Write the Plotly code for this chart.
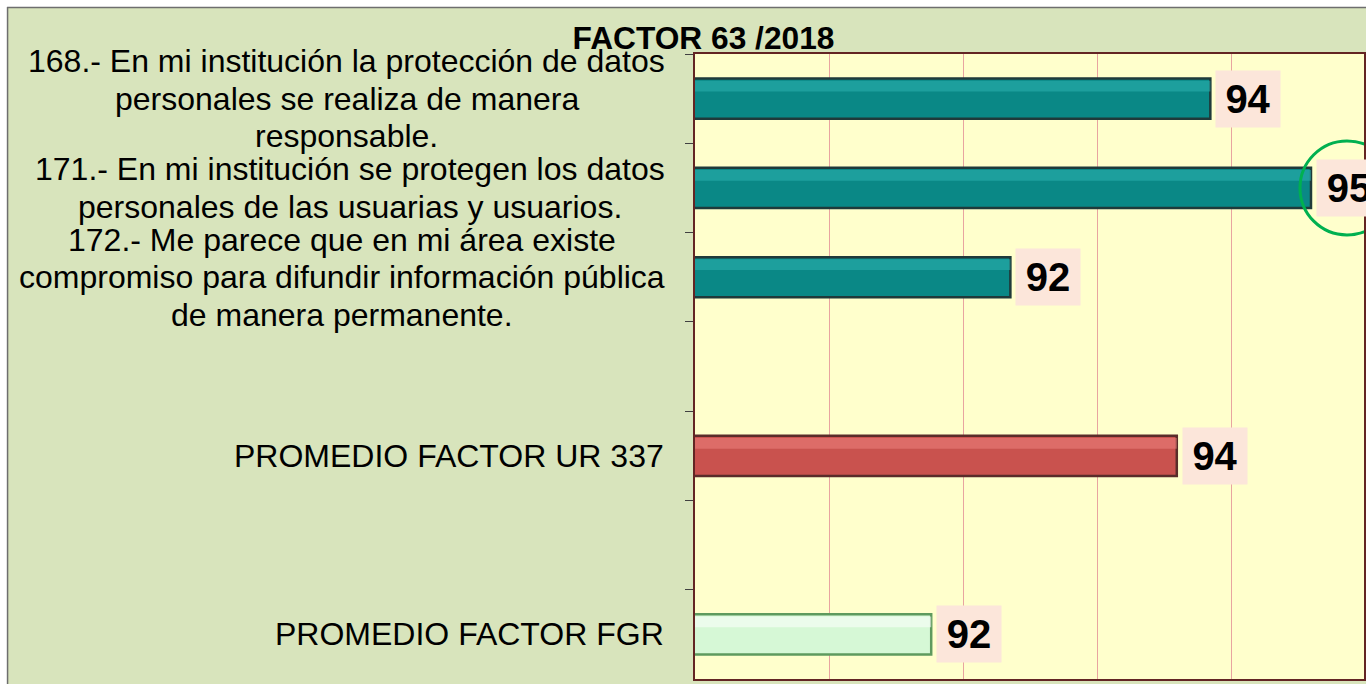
import plotly.graph_objects as go

# ---- data -------------------------------------------------------------
categories = [
    "168.- En mi institución la protección de datos<br>personales se realiza de manera<br>responsable.",
    "171.- En mi institución se protegen los datos<br>personales de las usuarias y usuarios.",
    "172.- Me parece que en mi área existe<br>compromiso para difundir información pública<br>de manera permanente.",
    " ",
    "PROMEDIO FACTOR UR 337",
    "  ",
    "PROMEDIO FACTOR FGR",
]
values = [93.84, 94.59, 92.35, None, 93.59, None, 91.76]
title_text = "FACTOR 63 /2018"

# ---- styles -----------------------------------------------------------
bar_fill = ["#0A8886", "#0A8886", "#0A8886", "#0A8886", "#C9524E", "#C9524E", "#D6F8D6"]
bar_edge = ["#1F3A3A", "#1F3A3A", "#1F3A3A", "#1F3A3A", "#5A2C2A", "#5A2C2A", "#5E9A5E"]
bar_shine = ["#2DB3B1", "#2DB3B1", "#2DB3B1", "#2DB3B1", "#EC817D", "#EC817D", "#FFFFFF"]

W, H = 1366, 684
M_L, M_R, M_T, M_B = 695, 0, 54, 5
PW, PH = W - M_L - M_R, H - M_T - M_B
FONT = "Arial, Liberation Sans, sans-serif"
LABEL_SIZE = 32
LABEL_LINE_PX = 37.5
LABEL_GAP_PX = 30

# Arial advance widths (per 1000 em) used to centre the label blocks
_ADV = {" ": 278, ".": 278, "-": 333, "/": 278}
_ADV.update({d: 556 for d in "0123456789"})
_ADV.update(dict(zip("abcdefghijklmnopqrstuvwxyz",
                     [556, 556, 500, 556, 556, 278, 556, 556, 222, 222, 500, 222, 833,
                      556, 556, 556, 556, 333, 500, 278, 556, 500, 722, 500, 500, 500])))
_ADV.update(dict(zip("ABCDEFGHIJKLMNOPQRSTUVWXYZ",
                     [667, 667, 722, 722, 667, 611, 778, 722, 278, 500, 667, 556, 833,
                      722, 778, 667, 778, 722, 667, 611, 722, 667, 944, 667, 667, 611])))
_ADV.update({"á": 556, "é": 556, "í": 278, "ó": 556, "ú": 556})


def text_width(s, size):
    return sum(_ADV.get(ch, 556) for ch in s) * size / 1000.0


def px_to_paper_x(px):
    return (px - M_L) / PW


def px_to_paper_y(py):
    return (H - M_B - py) / PH


fig = go.Figure()

# main bars
fig.add_trace(go.Bar(
    y=categories, x=values, orientation="h", width=0.45,
    marker=dict(color=bar_fill, line=dict(color=bar_edge, width=2.5)),
    hoverinfo="skip", showlegend=False,
))
# soft sheen along the upper part of each bar
fig.add_trace(go.Bar(
    y=categories, x=values, orientation="h", width=0.12, offset=-0.2,
    marker=dict(color=bar_shine, opacity=0.55, line=dict(width=0)),
    hoverinfo="skip", showlegend=False,
))

annotations = []
# value labels on a peach box right of every bar
for cat, v in zip(categories, values):
    if v is None:
        continue
    annotations.append(dict(
        x=v, y=cat, xref="x", yref="y", xanchor="left", yanchor="middle",
        xshift=5, text=f"<b>{v:.0f}</b>", showarrow=False,
        font=dict(family=FONT, size=40, color="#000000"),
        bgcolor="#FCE6DA", borderpad=5, width=54, height=46,
    ))
# category labels: lines centred within a right-aligned block, tight spacing
for cat in categories:
    if not cat.strip():
        continue
    lines = cat.split("<br>")
    n = len(lines)
    block_w = max(text_width(s, LABEL_SIZE) for s in lines)
    cx = -LABEL_GAP_PX - block_w / 2
    for i, line in enumerate(lines):
        annotations.append(dict(
            x=0, y=cat, xref="paper", yref="y", xanchor="center", yanchor="middle",
            xshift=cx, yshift=((n - 1) / 2 - i) * LABEL_LINE_PX,
            text=line, showarrow=False,
            font=dict(family=FONT, size=LABEL_SIZE, color="#000000"),
        ))

shapes = [
    # white page margin above and to the left of the chart frame
    dict(type="rect", xref="paper", yref="paper",
         x0=px_to_paper_x(-10), x1=px_to_paper_x(W + 10),
         y0=px_to_paper_y(7), y1=px_to_paper_y(-10),
         fillcolor="#FFFFFF", line=dict(width=0), layer="below"),
    dict(type="rect", xref="paper", yref="paper",
         x0=px_to_paper_x(-10), x1=px_to_paper_x(5),
         y0=px_to_paper_y(H + 10), y1=px_to_paper_y(-10),
         fillcolor="#FFFFFF", line=dict(width=0), layer="below"),
    # chart frame border
    dict(type="line", xref="paper", yref="paper",
         x0=px_to_paper_x(5), x1=px_to_paper_x(W + 10),
         y0=px_to_paper_y(7.5), y1=px_to_paper_y(7.5),
         line=dict(color="#6E6E6E", width=1.5)),
    dict(type="line", xref="paper", yref="paper",
         x0=px_to_paper_x(5.5), x1=px_to_paper_x(5.5),
         y0=px_to_paper_y(7), y1=px_to_paper_y(H + 10),
         line=dict(color="#6E6E6E", width=1.5)),
    # green ring highlighting the top value
    dict(type="circle", xref="x", yref="y",
         xsizemode="pixel", xanchor=values[1], x0=-11, x1=83,
         ysizemode="pixel", yanchor=categories[1], y0=-47, y1=47,
         line=dict(color="#00B050", width=3)),
]

fig.update_layout(
    width=W, height=H,
    margin=dict(l=M_L, r=M_R, t=M_T, b=M_B),
    paper_bgcolor="#D8E4BC",
    plot_bgcolor="#FFFFCC",
    barmode="overlay",
    title=dict(
        text=f"<b>{title_text}</b>", x=0.515, xref="container",
        y=1 - 38 / H, yref="container", xanchor="center", yanchor="middle",
        font=dict(family=FONT, size=31.7, color="#000000"),
    ),
    xaxis=dict(
        range=[90, 94.985], tick0=90, dtick=1, showticklabels=False,
        showgrid=True, gridcolor="#E8A4A0", gridwidth=1, zeroline=False,
        showline=True, linecolor="#632523", linewidth=2, mirror=True,
        ticks="", fixedrange=True,
    ),
    yaxis=dict(
        type="category", categoryorder="array", categoryarray=categories,
        range=[6.5, -0.5], showticklabels=False, showgrid=False,
        showline=True, linecolor="#632523", linewidth=2, mirror=True,
        ticks="outside", tickson="boundaries", ticklen=8, tickcolor="#404040",
        tickwidth=1, fixedrange=True,
    ),
    annotations=annotations,
    shapes=shapes,
    showlegend=False,
)

fig.write_html("out.html")
